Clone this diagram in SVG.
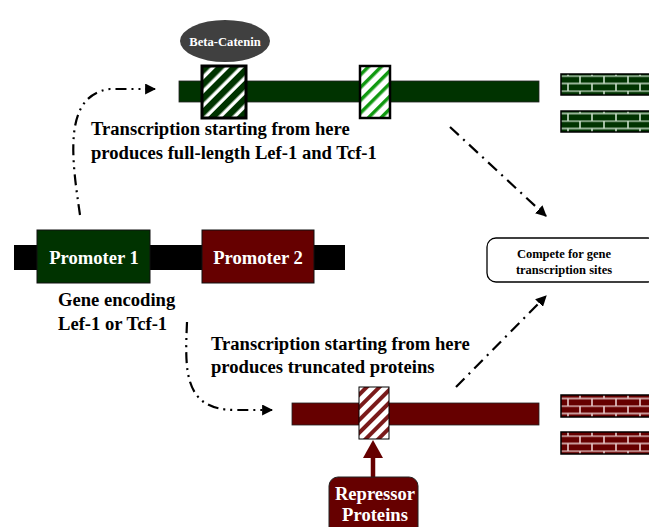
<svg xmlns="http://www.w3.org/2000/svg" width="649" height="527" viewBox="0 0 649 527">
<defs>
<style>
.t{font-family:"Liberation Serif","Times New Roman",serif;font-weight:bold;}
.lbl{font-size:18.6px;fill:#000;}
.wt{fill:#fff;}
.conn{fill:none;stroke:#000;stroke-width:2.2;}
.dd{stroke-dasharray:11 5 2 5 2 5;}
.dt{stroke-dasharray:12 6 2 6;}
</style>
<pattern id="hatchDark" width="10" height="10" patternUnits="userSpaceOnUse" patternTransform="rotate(45)">
<rect width="10" height="10" fill="#fff"/><rect width="6.5" height="10" fill="#003300"/>
</pattern>
<pattern id="hatchLight" width="9" height="9" patternUnits="userSpaceOnUse" patternTransform="rotate(45)">
<rect width="9" height="9" fill="#fff"/><rect width="3.5" height="9" fill="#109910"/>
</pattern>
<pattern id="hatchRed" width="9" height="9" patternUnits="userSpaceOnUse" patternTransform="rotate(45)">
<rect width="9" height="9" fill="#fff"/><rect width="4" height="9" fill="#7a1a1a"/>
</pattern>
<pattern id="brickG" width="24" height="15" patternUnits="userSpaceOnUse" y="0.5">
<rect width="24" height="15" fill="#003300"/>
<path d="M0 0.5H24M0 8H24M4 0V8M16 8V15" stroke="#c8dcc8" stroke-width="1.6"/>
</pattern>
<pattern id="brickR" width="24" height="15" patternUnits="userSpaceOnUse" y="0.5">
<rect width="24" height="15" fill="#660000"/>
<path d="M0 0.5H24M0 8H24M4 0V8M16 8V15" stroke="#e8cccc" stroke-width="1.6"/>
</pattern>
<marker id="ah" viewBox="0 0 10 10" refX="9" refY="5" markerWidth="5" markerHeight="5" orient="auto" markerUnits="strokeWidth">
<path d="M0 0L10 5L0 10z" fill="#000"/>
</marker>
</defs>
<rect width="649" height="527" fill="#fff"/>

<g id="connectors">
<path class="conn dd" d="M80 215 C72 160 62 95 110 89 L155 89" marker-end="url(#ah)"/>
<path class="conn dd" d="M187 322 C185 370 183 410 235 410 L272 410" marker-end="url(#ah)"/>
<path class="conn dt" d="M450 127 L546 216" marker-end="url(#ah)"/>
<path class="conn dt" d="M456 387 L546 296" marker-end="url(#ah)"/>
<path d="M373 478 V456" stroke="#660000" stroke-width="4.5" fill="none"/>
<path d="M363 458 L373 440 L383 458z" fill="#660000"/>
</g>

<g id="top-gene">
<rect x="179" y="81" width="360" height="21" fill="#003300" stroke="#222" stroke-width="0.8"/>
</g>
<g id="hatch-box-1">
<rect x="202" y="66" width="44" height="52" fill="url(#hatchDark)" stroke="#000" stroke-width="3"/>
</g>
<g id="hatch-box-2">
<rect x="360" y="66" width="30" height="52" fill="url(#hatchLight)" stroke="#000" stroke-width="2.5"/>
</g>
<g id="beta-catenin">
<ellipse cx="225" cy="41" rx="45" ry="21" fill="#404040"/>
<text class="t wt" x="225" y="45.5" font-size="12.6" text-anchor="middle">Beta-Catenin</text>
</g>

<g id="brick-green-1"><rect x="561" y="74" width="90" height="21" fill="url(#brickG)" stroke="#000" stroke-width="1.5"/></g>
<g id="brick-green-2"><rect x="561" y="111" width="90" height="21" fill="url(#brickG)" stroke="#000" stroke-width="1.5"/></g>
<g id="brick-red-1"><rect x="561" y="395" width="90" height="22" fill="url(#brickR)" stroke="#000" stroke-width="1.5"/></g>
<g id="brick-red-2"><rect x="561" y="432" width="90" height="22" fill="url(#brickR)" stroke="#000" stroke-width="1.5"/></g>

<g id="label-full">
<text class="t lbl" x="91" y="135">Transcription starting from here</text>
<text class="t lbl" x="91" y="159">produces full-length Lef-1 and Tcf-1</text>
</g>

<g id="middle-gene">
<rect x="14" y="245" width="331" height="25" fill="#000"/>
</g>
<g id="promoter-1">
<rect x="37" y="230" width="113" height="53" fill="#003300" stroke="#111" stroke-width="1"/>
<text class="t wt" x="94" y="264" font-size="18.6" text-anchor="middle">Promoter 1</text>
</g>
<g id="promoter-2">
<rect x="202" y="230" width="112" height="53" fill="#660000" stroke="#111" stroke-width="1"/>
<text class="t wt" x="258" y="264" font-size="18.6" text-anchor="middle">Promoter 2</text>
</g>
<g id="label-gene">
<text class="t lbl" x="58" y="306">Gene encoding</text>
<text class="t lbl" x="58" y="330">Lef-1 or Tcf-1</text>
</g>

<g id="compete">
<rect x="487" y="238" width="170" height="44" rx="9" fill="#fff" stroke="#000" stroke-width="1.3"/>
<text class="t" x="564" y="258" font-size="12.5" text-anchor="middle">Compete for gene</text>
<text class="t" x="564" y="274" font-size="12.5" text-anchor="middle">transcription sites</text>
</g>

<g id="label-trunc">
<text class="t lbl" x="211" y="350">Transcription starting from here</text>
<text class="t lbl" x="211" y="373">produces truncated proteins</text>
</g>

<g id="bottom-gene">
<rect x="292" y="403" width="247" height="22" fill="#660000" stroke="#222" stroke-width="0.8"/>
</g>
<g id="hatch-box-3">
<rect x="359" y="387" width="30" height="52" fill="url(#hatchRed)" stroke="#000" stroke-width="1"/>
</g>
<g id="repressor">
<rect x="329" y="477" width="89" height="60" rx="9" fill="#660000" stroke="#222" stroke-width="1"/>
<text class="t wt" x="375" y="500" font-size="18.6" text-anchor="middle">Repressor</text>
<text class="t wt" x="375" y="521" font-size="18.6" text-anchor="middle">Proteins</text>
</g>
</svg>
